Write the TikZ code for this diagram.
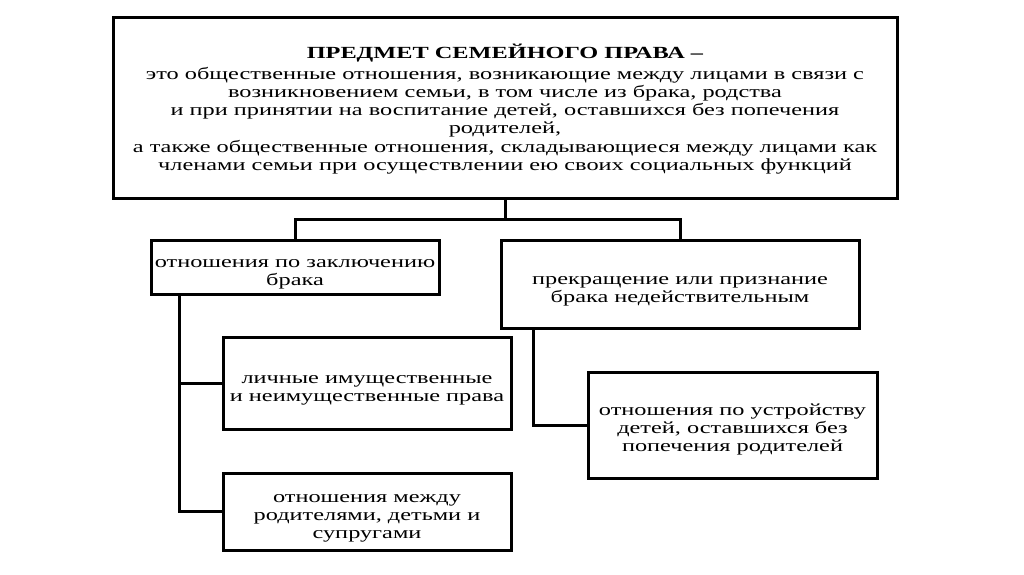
\documentclass[tikz,border=0pt]{standalone}
\usepackage{fontspec}
\setmainfont{Liberation Serif}[FakeStretch=1.43]
\usepackage{tikz}
\usetikzlibrary{positioning, calc}

\newcommand{\padtop}[1]{\rule{0pt}{#1}}

\tikzset{
    topbox/.style={draw, line width=3pt, minimum width=784pt, minimum height=181pt, align=center, inner sep=0pt,
        font=\fontsize{17}{18.3}\selectfont},
    subbox/.style={draw, line width=3pt, align=center, inner sep=0pt,
        font=\fontsize{17}{17.8}\selectfont},
    link/.style={line width=3pt}
}

\begin{document}
\begin{tikzpicture}[x=1pt, y=-1pt]
    \useasboundingbox (0,0) rectangle (1024,574);

    % main box
    \node[topbox] (subject) at (505,107.5) {
        \padtop{18pt}\textbf{ПРЕДМЕТ СЕМЕЙНОГО ПРАВА –}\\[2pt]
        это общественные отношения, возникающие между лицами в связи с\\
        возникновением семьи, в том числе из брака, родства\\
        и при принятии на воспитание детей, оставшихся без попечения\\
        родителей,\\
        а также общественные отношения, складывающиеся между лицами как\\
        членами семьи при осуществлении ею своих социальных функций
    };

    % second level
    \node[subbox, minimum width=288pt, minimum height=54pt] (marriage) at (295,267)
        {\padtop{22pt}отношения по заключению\\брака};
    \node[subbox, minimum width=358pt, minimum height=88pt] (termination) at (680,284)
        {\padtop{22pt}прекращение или признание\\брака недействительным};

    % third level
    \node[subbox, minimum width=288pt, minimum height=92pt] (rights) at (367,383)
        {\padtop{22pt}личные имущественные\\и неимущественные права};
    \node[subbox, minimum width=288pt, minimum height=77pt] (family) at (367,511.5)
        {\padtop{22pt}отношения между\\родителями, детьми и\\супругами};
    \node[subbox, minimum width=289pt, minimum height=106pt] (custody) at (732.5,425)
        {\padtop{20pt}отношения по устройству\\детей, оставшихся без\\попечения родителей};

    % connectors
    \coordinate (split) at ($(subject.south)+(0,20)$);
    \draw[link] (subject.south) -- (split);
    \draw[link] (split) -| (marriage.north);
    \draw[link] (split) -| (termination.north);

    \coordinate (lstem) at ($(marriage.south west)+(30,0)$);
    \draw[link] (lstem) |- (rights.west);
    \draw[link] (lstem) |- (family.west);

    \coordinate (rstem) at ($(termination.south west)+(34,0)$);
    \draw[link] (rstem) |- (custody.west);
\end{tikzpicture}
\end{document}
